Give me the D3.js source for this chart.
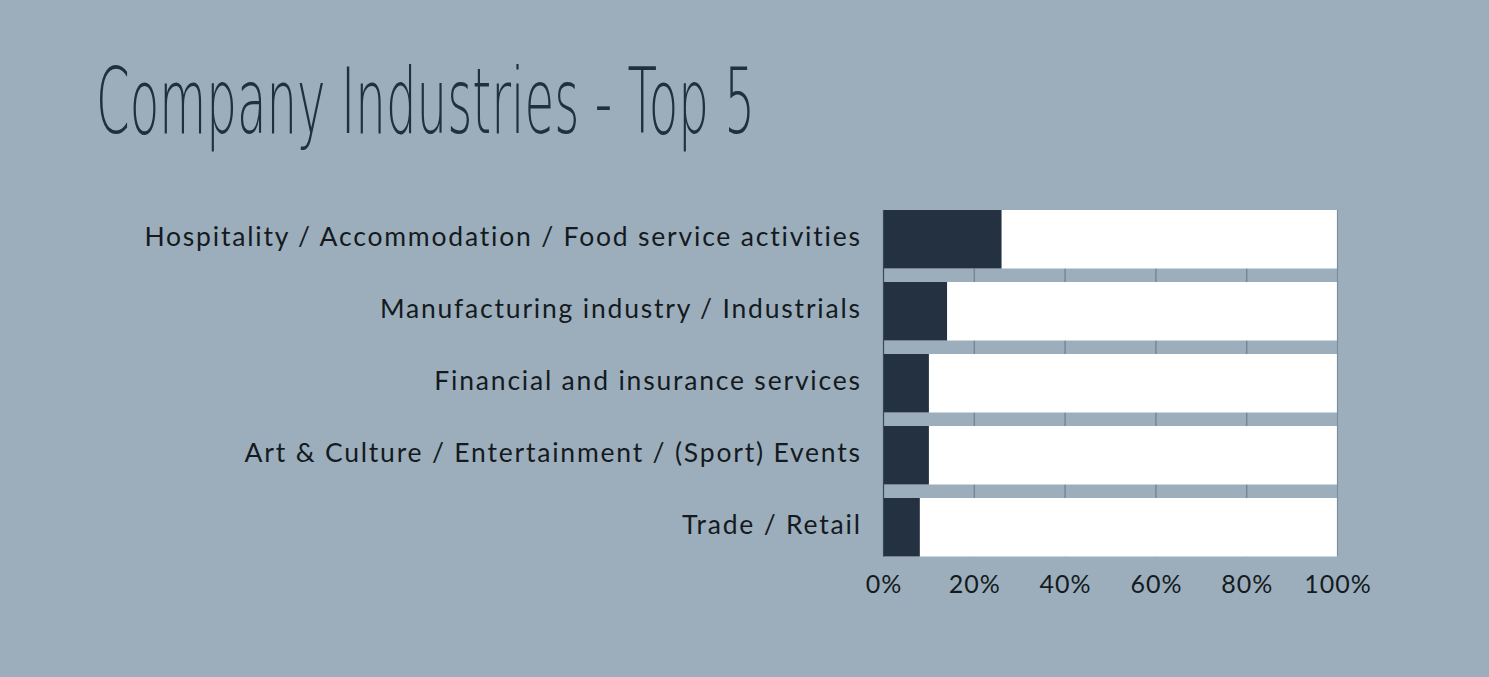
<!DOCTYPE html>
<html><head><meta charset="utf-8">
<script src="https://cdn.jsdelivr.net/npm/d3@7"></script>
<style>
html,body{margin:0;padding:0;background:#9caebc;}
svg{display:block;}
</style></head>
<body>
<svg id="chart" width="1489" height="677"></svg>
<script>
const categories = [
  "Hospitality / Accommodation / Food service activities",
  "Manufacturing industry / Industrials",
  "Financial and insurance services",
  "Art & Culture / Entertainment / (Sport) Events",
  "Trade / Retail"
];
const values = [26, 14, 10, 10, 8];
const tickValues = [0, 20, 40, 60, 80, 100];
const titleText = "Company Industries - Top 5";

(function(){
const svg = d3.select("#chart");
svg.append("rect").attr("width",1489).attr("height",677).attr("fill","#9caebc");

svg.append("text")
  .attr("x",96).attr("y",133)
  .attr("font-family","'DejaVu Sans', sans-serif")
  .attr("font-weight",200)
  .attr("font-size",90)
  .attr("fill","#22303e")
  .attr("textLength",659)
  .attr("lengthAdjust","spacingAndGlyphs")
  .text(titleText);

const x = d3.scaleLinear().domain([0,100]).range([883.5,1337.5]);
const y = d3.scaleBand().domain(categories).range([203.25,563.25])
  .paddingInner(0.1875).paddingOuter(0.09375);

const yTop = y(categories[0]);
const yBottom = y(categories[categories.length-1]) + y.bandwidth();

// gridlines
svg.append("g").selectAll("line").data(tickValues.slice(1,-1)).join("line")
  .attr("x1",d=>x(d)).attr("x2",d=>x(d))
  .attr("y1",yTop).attr("y2",yBottom)
  .attr("stroke","#74889a").attr("stroke-width",1.5);

// background bars
svg.append("g").selectAll("rect").data(categories).join("rect")
  .attr("x",x(0)).attr("y",d=>y(d))
  .attr("width",x(100)-x(0)).attr("height",y.bandwidth())
  .attr("fill","#ffffff");

// value bars
svg.append("g").selectAll("rect").data(values).join("rect")
  .attr("x",x(0)).attr("y",(d,i)=>y(categories[i]))
  .attr("width",d=>x(d)-x(0)).attr("height",y.bandwidth())
  .attr("fill","#243140");

// 0 and 100 edge lines
svg.append("g").selectAll("line").data([0,100]).join("line")
  .attr("x1",d=>x(d)).attr("x2",d=>x(d))
  .attr("y1",yTop).attr("y2",yBottom)
  .attr("stroke",d=>d===0?"#3a4856":"#7d8f9e").attr("stroke-width",1.2);

// category labels
svg.append("g").selectAll("text").data(categories).join("text")
  .attr("x",861.8).attr("y",d=>y(d)+y.bandwidth()/2+7)
  .attr("text-anchor","end")
  .attr("font-family","Lato, 'Open Sans', sans-serif")
  .attr("font-size",26.5)
  .attr("letter-spacing","1.8px")
  .attr("fill","#141a20")
  .text(d=>d);

// tick labels
svg.append("g").selectAll("text").data(tickValues).join("text")
  .attr("x",d=>x(d)+0.5).attr("y",593)
  .attr("text-anchor","middle")
  .attr("font-family","Lato, 'Open Sans', sans-serif")
  .attr("font-size",25)
  .attr("letter-spacing","1px")
  .attr("fill","#141a20")
  .text(d=>d+"%");
})();
</script>
</body></html>
